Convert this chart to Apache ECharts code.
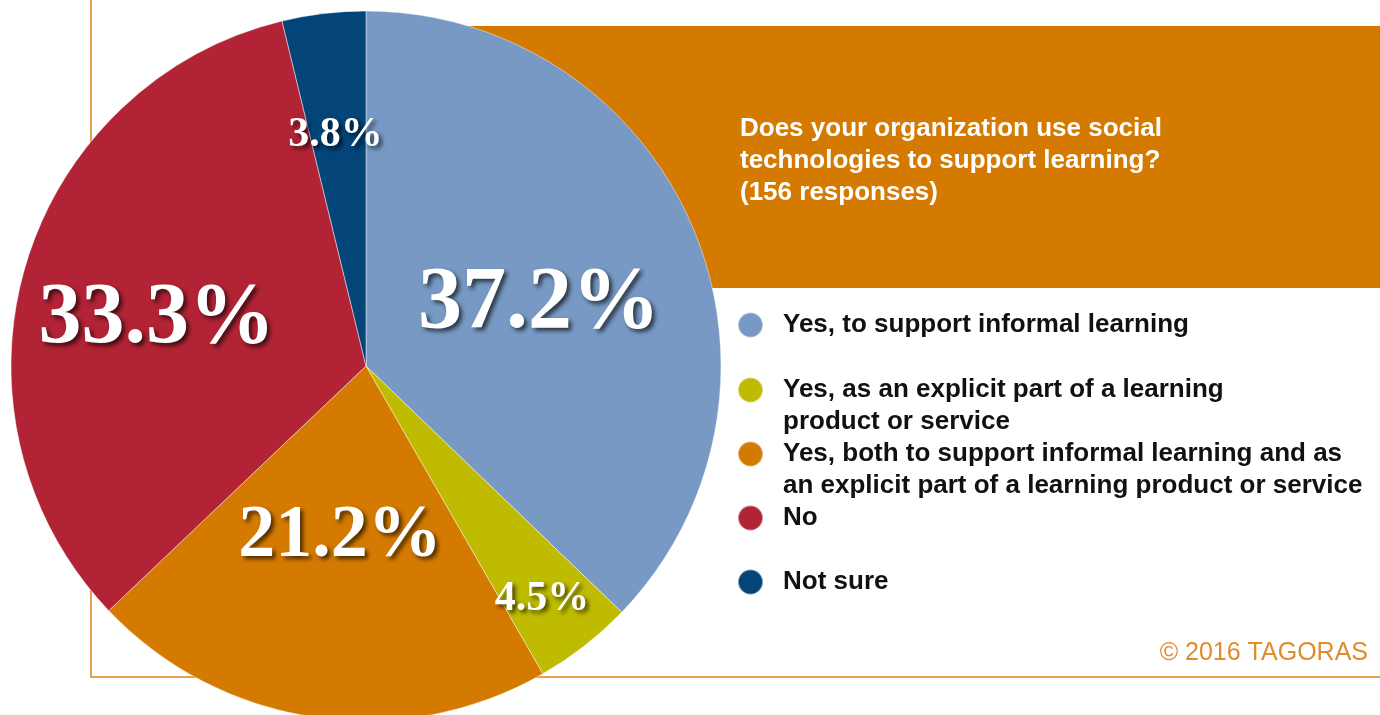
<!DOCTYPE html>
<html>
<head>
<meta charset="utf-8">
<title>Social technologies for learning</title>
<script src="https://cdn.jsdelivr.net/npm/echarts@6/dist/echarts.min.js"></script>
<style>
  html, body { margin: 0; padding: 0; background: #fff; }
  #main { width: 1380px; height: 715px; }
</style>
</head>
<body>
<div id="main"></div>
<script>
// survey answers, share of 156 responses (%)
const categories = [
  'Yes, to support informal learning',
  'Yes, as an explicit part of a learning product or service',
  'Yes, both to support informal learning and as an explicit part of a learning product or service',
  'No',
  'Not sure'
];
const values = [37.2, 4.5, 21.2, 33.3, 3.8];
const legendLabels = [
  'Yes, to support informal learning',
  '\nYes, as an explicit part of a learning\nproduct or service',
  '\nYes, both to support informal learning and as\nan explicit part of a learning product or service',
  'No',
  'Not sure'
];
const titleText = 'Does your organization use social\ntechnologies to support learning?\n(156 responses)';

const colors = ['#7799c4', '#bfbb00', '#d57a00', '#b22335', '#034479'];
const labelSizes = [88, 42, 74, 86, 42];
const labelOffsets = [[7, 9], [65, 91], [0, -8], [-36, 5], [-9, -52]];
const legendTops = [304, 337, 401, 497, 561];

const myChart = echarts.init(document.getElementById('main'));

const pieData = categories.map((name, i) => ({
  name: name,
  value: values[i],
  itemStyle: { color: colors[i] },
  label: { fontSize: labelSizes[i], offset: labelOffsets[i] }
}));

// one legend per row so the dots line up with the first text line
const legends = categories.map((name, i) => ({
  data: [name],
  left: 732,
  top: legendTops[i],
  orient: 'vertical',
  icon: 'circle',
  itemWidth: 25,
  itemHeight: 25,
  selectedMode: false,
  formatter: n => legendLabels[categories.indexOf(n)],
  textStyle: {
    fontFamily: 'Liberation Sans, Arial, sans-serif',
    fontWeight: 'bold',
    fontSize: 26,
    lineHeight: 32,
    color: '#111',
    padding: [0, 0, 0, 15]
  }
}));

const option = {
  animation: false,
  title: {
    text: titleText,
    left: 740,
    top: 113,
    padding: 0,
    textStyle: {
      fontFamily: 'Liberation Sans, Arial, sans-serif',
      fontWeight: 'bold',
      fontSize: 26,
      lineHeight: 32,
      color: '#fff'
    }
  },
  legend: legends,
  graphic: [
    { type: 'rect', z: 0, shape: { x: 366, y: 26, width: 1014, height: 262 }, style: { fill: '#d57a00' } },
    { type: 'line', z: 0, shape: { x1: 91, y1: 0, x2: 91, y2: 678 }, style: { stroke: '#e3a24f', lineWidth: 2 } },
    { type: 'line', z: 0, shape: { x1: 90, y1: 677, x2: 1380, y2: 677 }, style: { stroke: '#e3a24f', lineWidth: 2 } },
    {
      type: 'text', z: 1, x: 1368, y: 653,
      style: {
        text: '\u00a9 2016 TAGORAS',
        fill: '#e08b2c',
        font: '25px "Liberation Sans", Arial, sans-serif',
        textAlign: 'right',
        textVerticalAlign: 'middle'
      }
    }
  ],
  series: [{
    type: 'pie',
    z: 2,
    center: [366, 366],
    radius: 355,
    startAngle: 90,
    clockwise: true,
    silent: true,
    emphasis: { scale: false },
    itemStyle: { borderColor: 'rgba(255,255,255,0.45)', borderWidth: 1 },
    label: {
      position: 'inside',
      formatter: p => p.value.toFixed(1) + '%',
      fontFamily: 'Liberation Serif, Times New Roman, serif',
      fontWeight: 'bold',
      color: '#fff',
      textShadowColor: 'rgba(0,0,0,0.65)',
      textShadowBlur: 4,
      textShadowOffsetX: 3,
      textShadowOffsetY: 3
    },
    labelLine: { show: false },
    data: pieData
  }]
};

myChart.setOption(option);
</script>
</body>
</html>
